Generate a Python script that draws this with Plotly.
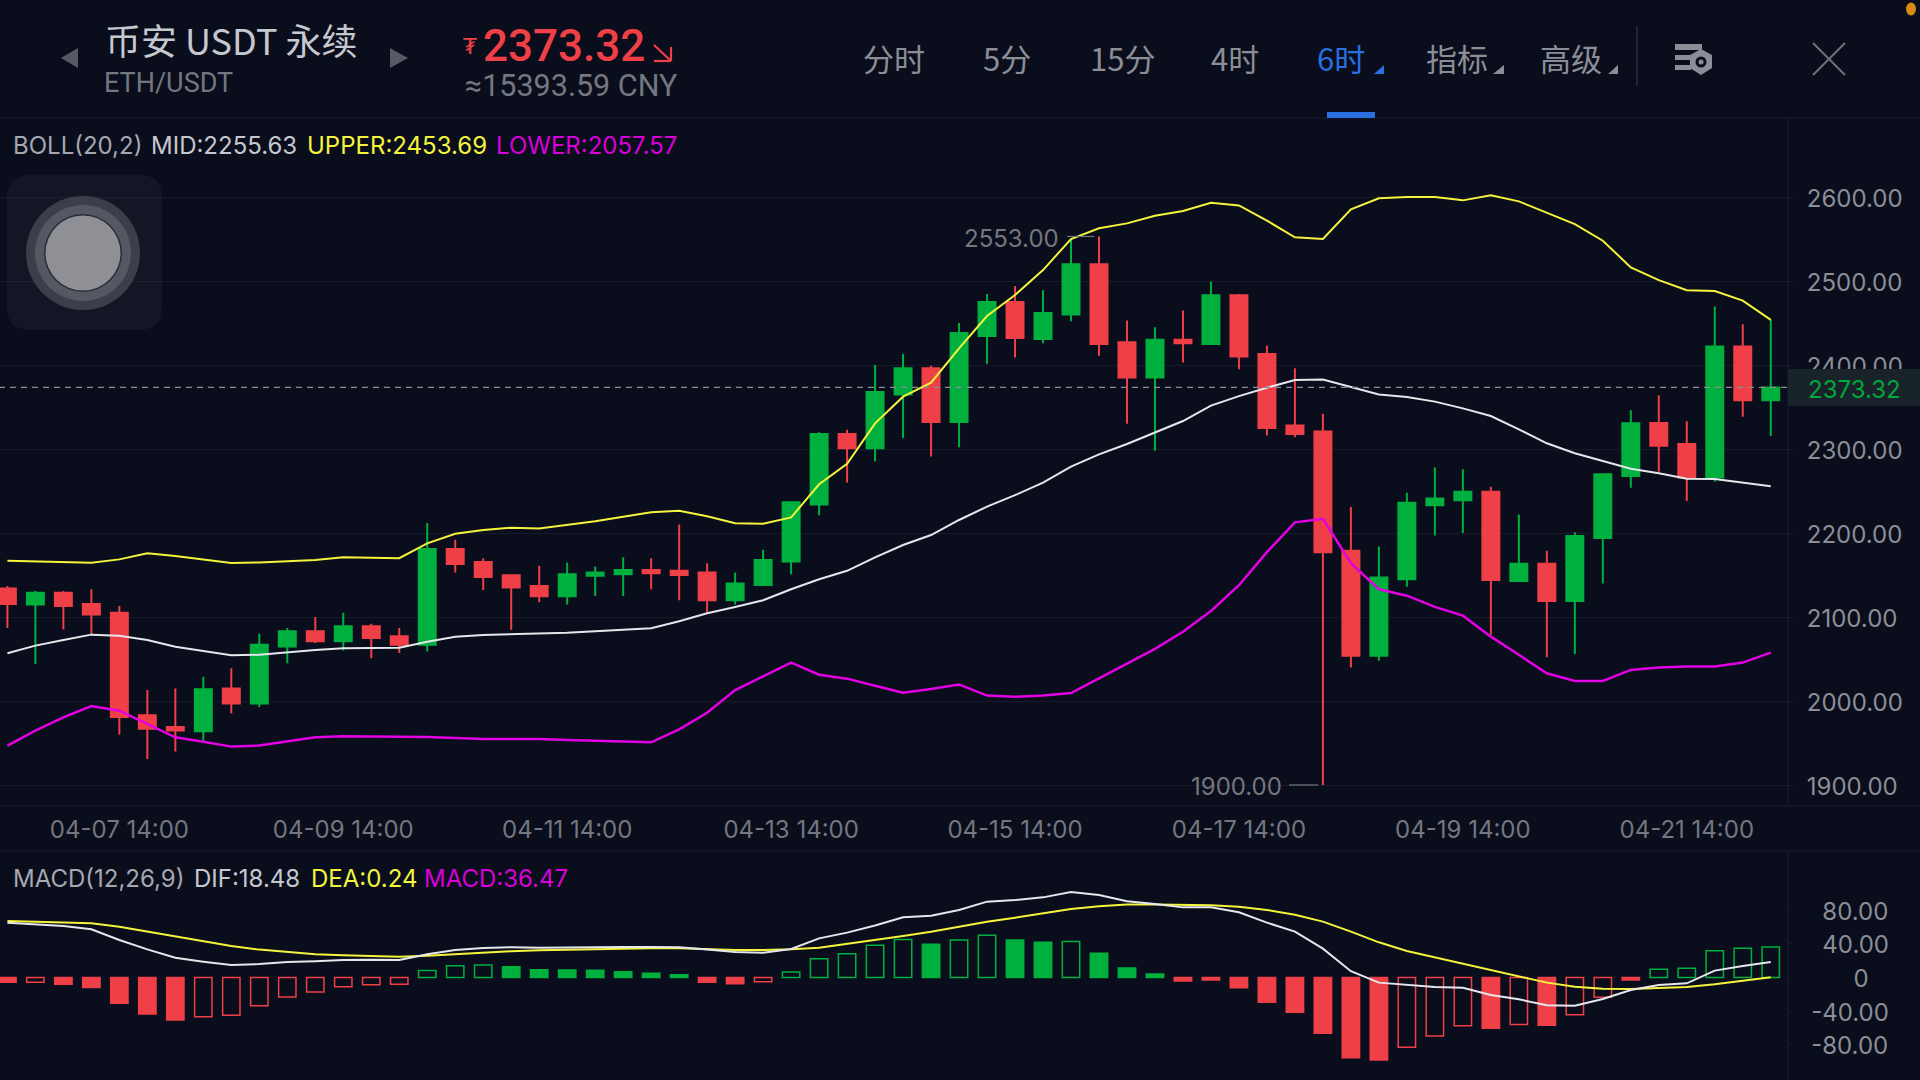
import plotly.graph_objects as go

# ---------- data ----------
opens = [2134,2115,2129,2115.5,2105,1983,1969,1964,2015,1997,2065,2083,2071,2089,2077,2067,2181,2165.5,2149.6,2137,
         2124.6,2149,2151,2156,2155,2153,2120,2138,2166,2234,2318,2301,2365,2396,2332,2434.5,2475,2431,2460,2520,
         2427,2385,2430,2425,2483,2413,2328,2320.7,2179,2054,2145,2233,2239,2249,2143,2163.5,2119,2194,2268,2331,
         2306,2266,2422,2358]
highs = [2137,2131,2131,2133,2113,2013,2015,2029,2039,2080,2087,2100,2105,2092,2087,2212,2192,2170,2150,2161,
         2165,2160,2171,2170,2210,2164,2153,2180,2237,2320,2323,2400,2413,2399,2450,2484.5,2494,2489,2550,2553,
         2453,2445,2465,2499,2484.5,2423,2396,2342,2231,2184,2248,2278,2276,2255,2222,2179,2201,2270,2346,2364,
         2333,2469.5,2448.4,2454]
lows = [2087,2044,2085,2079,1960,1931,1940,1951,1985,1993,2045,2069,2060,2051,2057,2059,2153,2132,2084.5,2117.5,
        2115,2125,2125,2133,2120,2105,2115,2137,2151,2221,2260,2285,2313,2291,2302,2401.6,2409,2426,2452,2411,
        2330,2298,2403,2425,2395,2316,2314,1900,2040,2048,2136,2197,2200,2079,2143,2052,2056,2140,2254,2273,
        2238,2261,2338.5,2315.5]
closes = [2115.5,2129,2113,2103,1981,1967,1965,2014,1997,2067,2083,2071,2089,2075,2067,2181,2163,2147.6,2135,2124.6,
          2151,2153,2156,2152,2150,2120,2140,2168,2236.5,2318,2301,2368,2396,2332,2438,2475,2432,2462,2520,2425,
          2385,2430,2426,2483,2410,2325,2318,2177,2054,2147,2236,2241,2249,2144,2163.5,2119,2196.5,2270,2330.6,2304,
          2266,2422,2358,2373.32]
boll_upper = [2167,2166,2165.5,2164.7,2168.6,2175.8,2172.6,2168.6,2164.3,2165,2166.7,2168,2171,2170.6,2170,2187.7,2199,
              2203.6,2206.3,2205.5,2209.5,2213.9,2219.4,2224.6,2226.6,2220,2211.5,2211,2218.5,
              2258,2282.5,2330.5,2362.3,2379,2419.8,2458.3,2483.3,2513,2550,2562.7,
              2568.6,2577.7,2583.3,2593.2,2590,2571.8,2552,2550,2585.3,2598.4,2600,2600,2596,2602,2594.8,2581.7,2567.8,2548,2516.2,
              2501,2489,2488,2476.6,2453.69]
boll_mid = [2056.8,2065.9,2072.6,2079,2077.8,2072.6,2064.7,2060,2054.4,2055,2058.3,2060.7,2062.7,2063.5,2063.5,2070.6,2076.6,
            2078.6,2079.4,2079.8,2081.3,2083,2084.5,2086.5,2095,2104.4,2112,2120,2133,2145,2155,2171,2185.7,
            2197.6,2215.5,2231.4,2245,2260,2279,2293.6,2306,2319.8,2333.3,2351.6,2363,2373,
            2382,2382.6,2373.4,2365,2362,2356.4,2348.4,2339.3,2323.4,2306.8,2295,2285.7,2276.6,2271,2264.7,2264.3,2260.3,2255.63]
boll_lower = [1946.8,1964.7,1980.6,1994,1988.5,1972.6,1956.8,1951.6,1945.7,1947,1951.6,1956.8,1958,1958,1957.5,1957,1955.8,
              1954.8,1954.8,1954.8,1953.6,1952.8,1952,1950.8,1966.3,1986,2013,2029.7,2045.6,2031.3,2026.6,2018.2,2009.9,2014.3,
              2019.7,2006.5,2005,2006.5,2009.5,2027,2044.5,2062,2082.4,2107.2,2137.8,2177.2,
              2212.7,2217,2164,2133,2125.4,2112,2101.6,2076.6,2055,2033,2023.8,2023.8,2037,2040,2041,2041,2045.7,2057.57]
macd_hist = [-5.7,-5.7,-8.1,-12,-30.7,-43.4,-50.6,-46.6,-45,-33.5,-23.2,-17.2,-10.9,-8.5,-8.1,
             8.2,14,14.9,12.9,9.3,8.9,8.5,7,5,3.4,-5.7,-7.3,-5,
             6.6,22.4,28.4,38.5,45.2,39.5,44.6,50.2,44.6,41.9,43,28.8,11.3,4.2,
             -4.2,-3,-12.2,-29.5,-41.4,-66.4,-95.4,-98.2,-83,-69.6,-57.3,-60.5,-56,-56.9,-44.2,-23.6,-3,
             9.7,10.9,32,34.7,36.47]
macd_hollow = [1,7,8,9,10,11,12,13,14,15,16,17,27,28,29,30,31,32,34,35,38,50,51,52,54,56,57,59,60,61,62,63]
macd_dif = [65.3,63.7,61.3,57.4,44.7,33.5,23.6,18.9,14.9,16,18.5,19.3,20.8,21.2,20.8,27.6,32.8,35.1,36,35.5,
            36,36,36.3,36.3,36,33.2,30.4,29.6,34,46.6,53.4,62,71.6,73.4,80.4,90.3,92.2,95.4,101.8,98.2,
            90.7,87.5,83.5,83.5,77.6,65.3,54.6,34.4,7.5,-6.1,-8.9,-11.3,-12.1,-20.8,-26,-33,-33.5,-25.6,-14.9,-8.9,
            -6.9,8.2,13.7,18.48]
macd_dea = [67.3,66.5,65.7,64.5,60.5,54.6,48.6,43,37.5,33.2,30,27.6,26.4,25.6,24.8,26,28,29.6,31.2,32.4,
            33.2,34,34.3,34.8,34.8,33.6,32.8,32.8,33.6,35.5,39.9,44.6,49.4,54.6,60.5,66.5,71.2,76.4,81.6,84.7,
            87,87,86.3,85.9,84.3,80.4,74.8,66.5,54.6,41.9,31.6,24,16,8.2,0.6,-6.1,-10.9,-13.3,-13.7,-12.9,
            -11.3,-8.1,-3.8,0.24]
last_price = 2373.32
high_idx, high_val = 39, 2553.00
low_idx, low_val = 47, 1900.00
x_tick_idx = [4, 12, 20, 28, 36, 44, 52, 60]
x_tick_labels = ["04-07 14:00","04-09 14:00","04-11 14:00","04-13 14:00","04-15 14:00","04-17 14:00","04-19 14:00","04-21 14:00"]
price_ticks = [1900,2000,2100,2200,2300,2400,2500,2600]
macd_ticks = [80,40,0,-40,-80]
macd_tick_labels = ["\u200780.00","\u200740.00","\u2007\u2007\u20070","\u2009-40.00","\u2009-80.00"]

# ---------- styles ----------
BG = "#0a0d1c"; GRID = "#161a2a"; SEP = "#1a1e2e"
RED = "#ef3f47"; GREEN = "#00b03f"
YELLOW = "#f4f43c"; WHITE = "#e6e7ec"; MAGENTA = "#e400e4"
GREY = "#8b8e97"; DIM = "#74777f"; LIGHT = "#c6c8cf"; BLUE = "#2a6fe0"
LAT = "Inter, 'Noto Sans', sans-serif"
CJK = "'Noto Sans CJK SC', sans-serif"
W, H = 1920, 1080
PW = 1788  # width of the plot panels

def px(x): return x / W
def py(y): return 1 - y / H

xs = list(range(len(closes)))
fig = go.Figure()

fig.add_trace(go.Candlestick(
    x=xs, open=opens, high=highs, low=lows, close=closes, whiskerwidth=0,
    increasing=dict(line=dict(color=GREEN, width=2), fillcolor=GREEN),
    decreasing=dict(line=dict(color=RED, width=2), fillcolor=RED),
    xaxis="x", yaxis="y", hoverinfo="skip"))
for vals, col, lw in ((boll_mid, WHITE, 2), (boll_upper, YELLOW, 2), (boll_lower, MAGENTA, 2.5)):
    fig.add_trace(go.Scatter(x=xs, y=vals, mode="lines", line=dict(color=col, width=lw),
                             xaxis="x", yaxis="y", hoverinfo="skip"))

bar_line = [GREEN if v > 0 else RED for v in macd_hist]
bar_fill = ["rgba(0,0,0,0)" if i in macd_hollow else bar_line[i] for i in xs]
fig.add_trace(go.Bar(x=xs, y=macd_hist, width=0.62, marker=dict(color=bar_fill, line=dict(color=bar_line, width=1.5)),
                     xaxis="x2", yaxis="y2", hoverinfo="skip"))
for vals, col in ((macd_dea, YELLOW), (macd_dif, WHITE)):
    fig.add_trace(go.Scatter(x=xs, y=vals, mode="lines", line=dict(color=col, width=2),
                             xaxis="x2", yaxis="y2", hoverinfo="skip"))

# ---------- chrome ----------
shapes = []
def rect(x0, y0, x1, y1, fill, line=None):
    shapes.append(dict(type="rect", xref="paper", yref="paper", x0=px(x0), x1=px(x1), y0=py(y0), y1=py(y1),
                       fillcolor=fill, line=dict(width=0), layer="above"))
def seg(x0, y0, x1, y1, col, w=1):
    shapes.append(dict(type="line", xref="paper", yref="paper", x0=px(x0), x1=px(x1), y0=py(y0), y1=py(y1),
                       line=dict(color=col, width=w), layer="above"))
def poly(points, fill):
    shapes.append(dict(type="path", xref="paper", yref="paper",
                       path="M " + " L ".join(f"{px(a):.5f},{py(b):.5f}" for a, b in points) + " Z",
                       fillcolor=fill, line=dict(width=0), layer="above"))
def circle(cx, cy, rx, ry, fill, line_col=None, lw=0):
    shapes.append(dict(type="circle", xref="paper", yref="paper", x0=px(cx-rx), x1=px(cx+rx), y0=py(cy-ry), y1=py(cy+ry),
                       fillcolor=fill, line=dict(width=lw, color=line_col or fill), layer="above"))

# panel separators
seg(0, 118, W, 118, SEP); seg(0, 806, W, 806, SEP); seg(0, 851, W, 851, SEP)
seg(PW, 118, PW, 806, SEP); seg(PW, 851, PW, H, SEP)
# last price dashed line and tag
shapes.append(dict(type="line", xref="x", yref="y", x0=-0.3, x1=63.62, y0=last_price, y1=last_price,
                   line=dict(color="#8d8e93", width=1.2, dash="6px,5px"), layer="above"))
shapes.append(dict(type="rect", xref="paper", yref="y", x0=px(PW), x1=1, y0=last_price-22, y1=last_price+22,
                   fillcolor="#18232a", line=dict(width=0), layer="above"))
# high / low leaders
shapes.append(dict(type="line", xref="x", yref="y", x0=high_idx-1.14, x1=high_idx-0.17, y0=high_val, y1=high_val,
                   line=dict(color=DIM, width=1.2), layer="above"))
shapes.append(dict(type="line", xref="x", yref="y", x0=low_idx-1.21, x1=low_idx-0.17, y0=low_val, y1=low_val,
                   line=dict(color=DIM, width=1.2), layer="above"))
# floating assistive button
shapes.append(dict(type="path", xref="paper", yref="paper", layer="above", fillcolor="rgba(255,255,255,0.04)", line=dict(width=0),
    path=(f"M {px(30)},{py(175)} L {px(139)},{py(175)} Q {px(162)},{py(175)} {px(162)},{py(198)} "
          f"L {px(162)},{py(307)} Q {px(162)},{py(330)} {px(139)},{py(330)} L {px(30)},{py(330)} "
          f"Q {px(7)},{py(330)} {px(7)},{py(307)} L {px(7)},{py(198)} Q {px(7)},{py(175)} {px(30)},{py(175)} Z")))
circle(83, 253, 57, 57, "#3c3f4a")
circle(83, 253, 48, 48, "#555862")
circle(83, 253, 39, 39, "#2b2d36")
circle(83, 253, 37.5, 37.5, "#8e9096")
# header arrows
poly([(78, 48), (78, 68), (61, 58)], "#555a66")
poly([(390, 48), (390, 68), (408, 58)], "#555a66")
# price arrow
seg(654, 45, 671, 61, RED, 2.2); seg(671, 61, 654, 61, RED, 2.2); seg(671, 61, 671, 47, RED, 2.2)
# tab corner triangles
poly([(1384, 65), (1384, 74), (1374, 74)], BLUE)
poly([(1504, 65), (1504, 74), (1493, 74)], GREY)
poly([(1618, 65), (1618, 74), (1608, 74)], GREY)
rect(1327, 112, 1375, 118, BLUE)
seg(1637, 26, 1637, 86, "#2b2e3a", 1.5)
# settings icon
rect(1675, 44, 1702, 50, GREY); rect(1675, 55, 1691, 60, GREY); rect(1675, 65, 1691, 70, GREY)
poly([(1701, 49), (1712, 55), (1712, 68), (1701, 75), (1690, 68), (1690, 55)], GREY)
circle(1701, 62, 5.5, 5.5, BG)
circle(1701, 62, 2.5, 2.5, GREY)
# close icon
seg(1813, 43, 1845, 75, "#6d717b", 2); seg(1845, 43, 1813, 75, "#6d717b", 2)
# status dot
circle(1911, 9, 5, 6.5, "#d98a13")

# ---------- text ----------
ann = []
def text(x, y, s, size, col, font=LAT, anchor="left", weight=None):
    f = dict(size=size, color=col, family=font)
    if weight:
        f["weight"] = weight
    ann.append(dict(xref="paper", yref="paper", x=px(x), y=py(y), text=s, showarrow=False, xanchor=anchor, yanchor="middle",
                    font=f, borderpad=0))

text(104, 39, "币安 USDT 永续", 36, LIGHT, CJK)
text(103, 83, "ETH/USDT", 27, DIM, "Roboto, sans-serif")
text(462, 47, "₮", 22, RED, "'DejaVu Sans', sans-serif")
text(482, 46, "2373.32", 44, RED, "Roboto, sans-serif", weight=500)
text(464, 85, "≈15393.59 CNY", 30.5, DIM, "Roboto, sans-serif")
for cx, s, col in ((894, "分时", GREY), (1007, "5分", GREY), (1122, "15分", GREY), (1235, "4时", GREY),
                   (1341, "6时", BLUE), (1457, "指标", GREY), (1571, "高级", GREY)):
    text(cx, 57, s, 31, col, CJK, "center")

for x, s, col in ((12, "BOLL(20,2)", "#a5a8b1"), (149.5, "MID:2255.63", LIGHT), (305.5, "UPPER:2453.69", YELLOW), (494.5, "LOWER:2057.57", "#d800d8")):
    text(x, 145, s, 24, col)
for x, s, col in ((12, "MACD(12,26,9)", "#a5a8b1"), (192.5, "DIF:18.48", LIGHT), (309.5, "DEA:0.24", YELLOW), (422.5, "MACD:36.47", "#d800d8")):
    text(x, 878, s, 24, col)

ann.append(dict(xref="paper", yref="y", x=px(1806), y=last_price, yshift=-2, text=f"{last_price:.2f}", showarrow=False, xanchor="left",
                yanchor="middle", font=dict(size=24, color="#00a83c", family=LAT)))
ann.append(dict(xref="x", yref="y", x=high_idx, y=high_val, xshift=-38, yshift=-2, text=f"{high_val:.2f}", showarrow=False, xanchor="right",
                yanchor="middle", font=dict(size=24, color=DIM, family=LAT)))
ann.append(dict(xref="x", yref="y", x=low_idx, y=low_val, xshift=-39, yshift=-1, text=f"{low_val:.2f}", showarrow=False, xanchor="right",
                yanchor="middle", font=dict(size=24, color=DIM, family=LAT)))

# ---------- layout ----------
x_range = [-0.264, 63.616]
tick_font = dict(size=24, color=GREY, family=LAT)
fig.update_layout(
    width=W, height=H, autosize=False, showlegend=False, paper_bgcolor=BG, plot_bgcolor=BG,
    margin=dict(l=0, r=0, t=0, b=0, autoexpand=False), bargap=0.3, boxgap=0.133, barmode="overlay",
    shapes=shapes, annotations=ann,
    xaxis=dict(domain=[0, PW / W], range=x_range, anchor="y", tickmode="array", tickvals=x_tick_idx, ticktext=x_tick_labels,
               showgrid=False, zeroline=False, showline=False, ticks="", rangeslider=dict(visible=False),
               tickfont=dict(size=24, color=DIM, family=LAT), ticklabelstandoff=7),
    yaxis=dict(domain=[py(806), py(118)], range=[1875, 2694.05], anchor="x", side="right", tickmode="array", tickvals=price_ticks,
               tickformat=".2f", showgrid=True, gridcolor=GRID, gridwidth=1, zeroline=False, showline=False,
               ticks="outside", ticklen=5, tickcolor=GRID, ticklabelstandoff=8, ticklabelshift=2, tickfont=tick_font),
    xaxis2=dict(domain=[0, PW / W], range=x_range, anchor="y2", showticklabels=False, showgrid=False, zeroline=False,
                showline=False, ticks=""),
    yaxis2=dict(domain=[0, py(851)], range=[-122, 150.6], anchor="x2", side="right", tickmode="array", tickvals=macd_ticks,
                ticktext=macd_tick_labels, showgrid=False, zeroline=False, showline=False, ticks="outside", ticklen=3,
                tickcolor=GRID, ticklabelstandoff=10, ticklabelshift=1, tickfont=tick_font),
)

post = "document.body.style.margin='0';document.body.style.background='%s';document.documentElement.style.overflow='hidden';" % BG
fig.write_html("out.html", post_script=post, config=dict(displayModeBar=False))
